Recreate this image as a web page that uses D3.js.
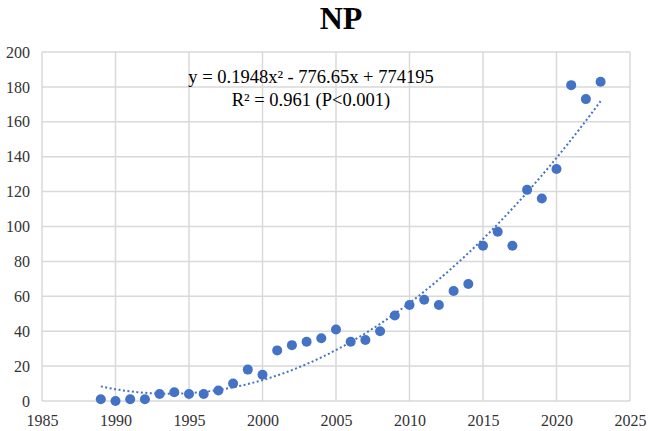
<!DOCTYPE html>
<html>
<head>
<meta charset="utf-8">
<script src="https://cdn.jsdelivr.net/npm/d3@7"></script>
<style>
  html, body { margin: 0; padding: 0; background: #fff; }
  svg text { font-family: 'Liberation Serif', 'Times New Roman', serif; }
</style>
</head>
<body>
<div id="chart"></div>
<script>
// NP counts per year
const years = [1989, 1990, 1991, 1992, 1993, 1994, 1995, 1996, 1997, 1998, 1999, 2000,
  2001, 2002, 2003, 2004, 2005, 2006, 2007, 2008, 2009, 2010, 2011, 2012,
  2013, 2014, 2015, 2016, 2017, 2018, 2019, 2020, 2021, 2022, 2023];
const counts = [1, 0, 1, 1, 4, 5, 4, 4, 6, 10, 18, 15,
  29, 32, 34, 36, 41, 34, 35, 40, 49, 55, 58, 55,
  63, 67, 89, 97, 89, 121, 116, 133, 181, 173, 183];
const xTicks = [1985, 1990, 1995, 2000, 2005, 2010, 2015, 2020, 2025];
const yTicks = [0, 20, 40, 60, 80, 100, 120, 140, 160, 180, 200];
const equation = ['y = 0.1948x² - 776.65x + 774195', 'R² = 0.961 (P<0.001)'];

const width = 650, height = 431;
const margin = { top: 52, right: 20, bottom: 30, left: 42 };
const blue = '#4472C4';

const svg = d3.select('#chart').append('svg')
  .attr('width', width)
  .attr('height', height);

const x = d3.scaleLinear().domain([1985, 2025]).range([margin.left, width - margin.right]);
const y = d3.scaleLinear().domain([0, 200]).range([height - margin.bottom, margin.top]);

// Title
svg.append('text')
  .attr('x', 341)
  .attr('y', 29)
  .attr('text-anchor', 'middle')
  .style('font-size', '32px')
  .style('font-weight', 'bold')
  .text('NP');

// Gridlines
svg.append('g')
  .selectAll('line')
  .data(yTicks)
  .join('line')
  .attr('x1', x(1985)).attr('x2', x(2025))
  .attr('y1', d => y(d)).attr('y2', d => y(d))
  .attr('stroke', '#d9d9d9')
  .attr('stroke-width', 1.5);

svg.append('g')
  .selectAll('line')
  .data(xTicks)
  .join('line')
  .attr('x1', d => x(d)).attr('x2', d => x(d))
  .attr('y1', y(0)).attr('y2', y(200))
  .attr('stroke', '#d9d9d9')
  .attr('stroke-width', 1.5);

// Axes (labels only; lines come from the grid)
const yAxis = svg.append('g')
  .attr('transform', `translate(${margin.left},0)`)
  .call(d3.axisLeft(y).tickValues(yTicks).tickSize(0).tickPadding(12));
yAxis.select('.domain').remove();
yAxis.selectAll('text')
  .style('font-size', '16px')
  .style('font-family', "'Liberation Serif', serif")
  .attr('fill', '#333');

const xAxis = svg.append('g')
  .attr('transform', `translate(0,${y(0)})`)
  .call(d3.axisBottom(x).tickValues(xTicks).tickFormat(d3.format('d')).tickSize(0).tickPadding(14));
xAxis.select('.domain').remove();
xAxis.selectAll('text')
  .style('font-size', '16px')
  .style('font-family', "'Liberation Serif', serif")
  .attr('fill', '#333');

// Quadratic trendline fitted to the data (centred x for stability)
const n = years.length;
const xm = d3.mean(years);
let S = [0, 0, 0, 0, 0], T = [0, 0, 0];
years.forEach((yr, i) => {
  const t = yr - xm;
  for (let k = 0; k < 5; k++) S[k] += Math.pow(t, k);
  for (let k = 0; k < 3; k++) T[k] += counts[i] * Math.pow(t, k);
});
function solve3(A, b) {
  const M = A.map((r, i) => [...r, b[i]]);
  for (let i = 0; i < 3; i++) {
    for (let j = i + 1; j < 3; j++) {
      const f = M[j][i] / M[i][i];
      for (let k = i; k < 4; k++) M[j][k] -= f * M[i][k];
    }
  }
  const r = [0, 0, 0];
  for (let i = 2; i >= 0; i--) {
    let s = M[i][3];
    for (let k = i + 1; k < 3; k++) s -= M[i][k] * r[k];
    r[i] = s / M[i][i];
  }
  return r;
}
const coef = solve3([[S[0], S[1], S[2]], [S[1], S[2], S[3]], [S[2], S[3], S[4]]], T);
const fit = yr => { const t = yr - xm; return coef[0] + coef[1] * t + coef[2] * t * t; };
const trend = d3.range(years[0], years[n - 1] + 0.001, 0.25).map(yr => [yr, fit(yr)]);

svg.append('path')
  .datum(trend)
  .attr('d', d3.line().x(d => x(d[0])).y(d => y(d[1])))
  .attr('fill', 'none')
  .attr('stroke', blue)
  .attr('stroke-width', 2)
  .attr('stroke-dasharray', '2,2.5');

// Points
svg.append('g')
  .selectAll('circle')
  .data(years.map((yr, i) => [yr, counts[i]]))
  .join('circle')
  .attr('cx', d => x(d[0]))
  .attr('cy', d => y(d[1]))
  .attr('r', 5)
  .attr('fill', blue);

// Equation label
svg.append('g')
  .selectAll('text')
  .data(equation)
  .join('text')
  .attr('x', 311)
  .attr('y', (d, i) => 83 + i * 23)
  .attr('text-anchor', 'middle')
  .style('font-size', '18.5px')
  .attr('fill', '#000')
  .text(d => d);
</script>
</body>
</html>
